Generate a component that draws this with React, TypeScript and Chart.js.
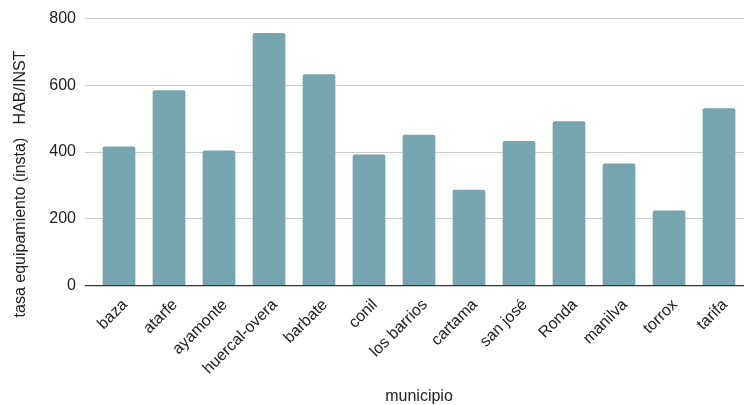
import React, { useEffect, useRef } from "react";
import { Chart, registerables } from "chart.js";

Chart.register(...registerables);

const categories = ["baza", "atarfe", "ayamonte", "huercal-overa", "barbate", "conil", "los barrios", "cartama", "san josé", "Ronda", "manilva", "torrox", "tarifa"];
const values = [417, 585, 405, 757, 633, 393, 452, 287, 433, 492, 366, 225, 531];
const yTicks = [0, 200, 400, 600, 800];
const xTitle = "municipio";
const yTitle = "tasa equipamiento (insta)   HAB/INST";

const FONT = "'Liberation Sans', Arial, sans-serif";

const titlesPlugin = {
  id: "titles",
  afterDraw(chart: any) {
    const ctx = chart.ctx;
    const area = chart.chartArea;
    ctx.save();
    ctx.fillStyle = "#222222";
    ctx.font = `16px ${FONT}`;
    ctx.textAlign = "center";
    ctx.textBaseline = "middle";
    ctx.fillText(xTitle, (area.left + area.right) / 2, 397);
    ctx.translate(21, 184);
    ctx.rotate(-Math.PI / 2);
    ctx.fillText(yTitle, 0, 0);
    ctx.restore();
  },
};

export default function App() {
  const ref = useRef<HTMLCanvasElement>(null);
  useEffect(() => {
    if (!ref.current) return;
    const chart = new Chart(ref.current, {
      type: "bar",
      data: {
        labels: categories,
        datasets: [
          {
            data: values,
            backgroundColor: "#76a5af",
            borderRadius: 2,
            borderSkipped: "bottom",
            categoryPercentage: 1,
            barPercentage: 0.654,
          },
        ],
      },
      options: {
        animation: false,
        responsive: false,
        maintainAspectRatio: false,
        layout: { padding: { top: 17, right: 2, left: 0, bottom: 0 } },
        plugins: { legend: { display: false }, tooltip: { enabled: false } },
        scales: {
          x: {
            grid: { display: false },
            border: { display: false },
            ticks: {
              minRotation: 45,
              maxRotation: 45,
              autoSkip: false,
              color: "#222222",
              font: { family: FONT, size: 16 },
              padding: 2,
              labelOffset: 6,
            },
            afterFit(scale: any) {
              scale.height = 119.5;
            },
          },
          y: {
            min: 0,
            max: 800,
            afterBuildTicks(scale: any) {
              scale.ticks = yTicks.map((v) => ({ value: v }));
            },
            grid: {
              color: (c: any) => (c.tick && c.tick.value === 0 ? "#333333" : "#cccccc"),
              lineWidth: (c: any) => (c.tick && c.tick.value === 0 ? 1.2 : 1),
              tickLength: 9,
            },
            border: { display: false },
            ticks: {
              color: "#222222",
              font: { family: FONT, size: 16 },
              padding: 9,
            },
            afterFit(scale: any) {
              scale.width = 94;
            },
          },
        },
      },
      plugins: [titlesPlugin],
    });
    return () => chart.destroy();
  }, []);
  return (
    <div style={{ position: "fixed", left: 0, top: 0, width: 746, height: 405, background: "#fff" }}>
      <canvas ref={ref} width={746} height={405} style={{ display: "block" }} />
    </div>
  );
}
